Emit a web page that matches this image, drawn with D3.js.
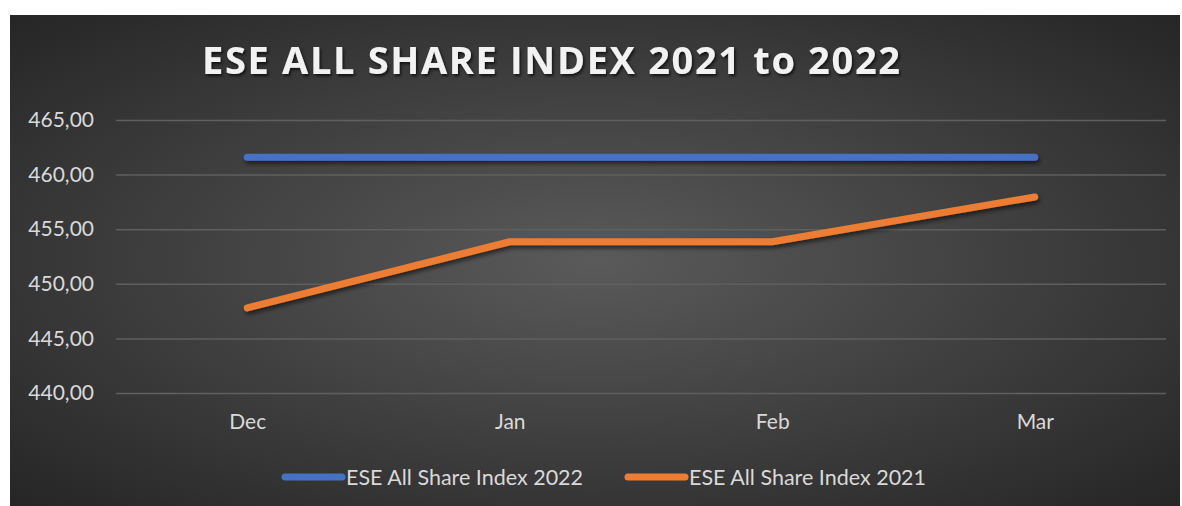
<!DOCTYPE html>
<html>
<head>
<meta charset="utf-8">
<script src="https://cdn.jsdelivr.net/npm/d3@7"></script>
<style>
  html, body { margin: 0; padding: 0; background: #fff; }
  #container { width: 1182px; height: 506px; }
  text { font-family: Lato, "Open Sans", sans-serif; }
</style>
</head>
<body>
<div id="container"></div>
<script>
var months = ["Dec", "Jan", "Feb", "Mar"];
var index2022 = [461.6, 461.6, 461.6, 461.6];
var index2021 = [447.8, 453.85, 453.85, 457.95];
var yTicks = [440, 445, 450, 455, 460, 465];
var seriesNames = ["ESE All Share Index 2022", "ESE All Share Index 2021"];
var seriesColors = ["#4472C4", "#ED7D31"];

var width = 1182, height = 506;
var svg = d3.select("#container").append("svg")
    .attr("width", width)
    .attr("height", height);

var defs = svg.append("defs");
var grad = defs.append("radialGradient")
    .attr("id", "bg")
    .attr("cx", "50%").attr("cy", "50%").attr("r", "70%");
grad.append("stop").attr("offset", "0%").attr("stop-color", "#5a5a5a");
grad.append("stop").attr("offset", "100%").attr("stop-color", "#262626");

// user space region so a flat line still gets its shadow
var shadow = defs.append("filter").attr("id", "shadow")
    .attr("filterUnits", "userSpaceOnUse")
    .attr("x", 0).attr("y", 0).attr("width", width).attr("height", height);
shadow.append("feDropShadow")
    .attr("dx", 1.5).attr("dy", 3).attr("stdDeviation", 2)
    .attr("flood-color", "#000").attr("flood-opacity", 0.55);

var titleShadow = defs.append("filter").attr("id", "tshadow")
    .attr("filterUnits", "userSpaceOnUse")
    .attr("x", 0).attr("y", 0).attr("width", width).attr("height", height);
titleShadow.append("feDropShadow")
    .attr("dx", 1.5).attr("dy", 2).attr("stdDeviation", 1.5)
    .attr("flood-color", "#000").attr("flood-opacity", 0.7);

// chart area background
svg.append("rect")
    .attr("x", 10).attr("y", 15)
    .attr("width", 1170).attr("height", 491)
    .attr("fill", "url(#bg)");

var plot = { left: 116, right: 1166, top: 120, bottom: 393 };

var x = d3.scalePoint()
    .domain(months)
    .range([plot.left, plot.right])
    .padding(0.5);

var y = d3.scaleLinear()
    .domain([440, 465])
    .range([plot.bottom, plot.top]);

// title
svg.append("text")
    .attr("x", 202).attr("y", 74)
    .attr("textLength", 698)
    .attr("lengthAdjust", "spacing")
    .style("font-family", "'Open Sans', sans-serif")
    .style("font-weight", "bold")
    .style("font-size", "38px")
    .attr("fill", "#f2f2f2")
    .attr("filter", "url(#tshadow)")
    .text("ESE ALL SHARE INDEX 2021 to 2022");

// grid + y axis
var yAxis = svg.append("g")
    .attr("transform", `translate(${plot.left},0)`)
    .call(d3.axisLeft(y)
        .tickValues(yTicks)
        .tickSize(-(plot.right - plot.left))
        .tickPadding(22)
        .tickFormat(d => d3.format(".2f")(d).replace(".", ",")));
yAxis.select(".domain").remove();
yAxis.selectAll(".tick line")
    .attr("stroke", "#5f5f5f")
    .attr("stroke-width", 1.5);
yAxis.selectAll(".tick text")
    .attr("fill", "#d9d9d9")
    .style("font-size", "21px")
    .style("font-family", "Lato, sans-serif");

// x axis
var xAxis = svg.append("g")
    .attr("transform", `translate(0,${plot.bottom})`)
    .call(d3.axisBottom(x).tickSize(0).tickPadding(21));
xAxis.select(".domain").remove();
xAxis.selectAll(".tick text")
    .attr("fill", "#d9d9d9")
    .style("font-size", "21px")
    .style("font-family", "Lato, sans-serif");

// lines
var line = d3.line()
    .x((d, i) => x(months[i]))
    .y(d => y(d));

[index2022, index2021].forEach(function (vals, i) {
    svg.append("path")
        .datum(vals)
        .attr("d", line)
        .attr("fill", "none")
        .attr("stroke", seriesColors[i])
        .attr("stroke-width", 7)
        .attr("stroke-linecap", "round")
        .attr("stroke-linejoin", "round")
        .attr("filter", "url(#shadow)");
});

// legend
var legendX = [285, 628];
var legend = svg.append("g");
seriesNames.forEach(function (name, i) {
    var g = legend.append("g").attr("transform", `translate(${legendX[i]},477)`);
    g.append("line")
        .attr("x1", 0).attr("x2", 57)
        .attr("y1", 0).attr("y2", 0)
        .attr("stroke", seriesColors[i])
        .attr("stroke-width", 7)
        .attr("stroke-linecap", "round");
    g.append("text")
        .attr("x", 61).attr("y", 0)
        .attr("dy", "0.35em")
        .attr("fill", "#d9d9d9")
        .style("font-size", "21.5px")
        .text(name);
});
</script>
</body>
</html>
